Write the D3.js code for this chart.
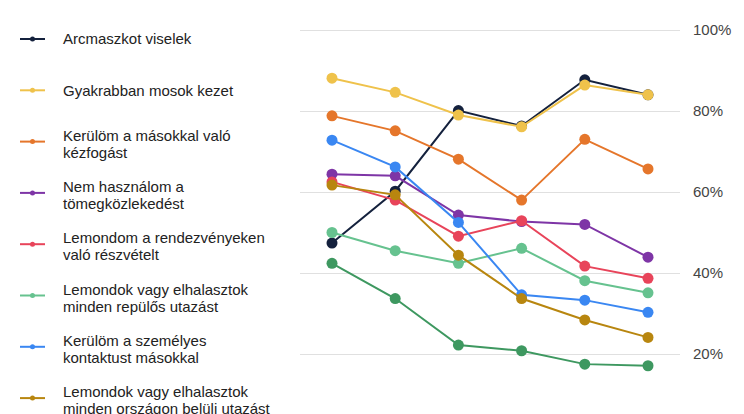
<!DOCTYPE html>
<html>
<head>
<meta charset="utf-8">
<script src="https://cdn.jsdelivr.net/npm/d3@7"></script>
<style>
  body { margin: 0; background: #fff; }
  svg { display: block; font-family: Arial, "Liberation Sans", sans-serif; }
</style>
</head>
<body>
<svg id="chart" width="744" height="414"></svg>
<script>
var svgWidth = 744;
var svgHeight = 414;

// survey rounds (x labels fall below the visible area)
var periods = [1, 2, 3, 4, 5, 6];

var seriesNames = [
  ['Arcmaszkot viselek'],
  ['Gyakrabban mosok kezet'],
  ['Kerülöm a másokkal való', 'kézfogást'],
  ['Nem használom a', 'tömegközlekedést'],
  ['Lemondom a rendezvényeken', 'való részvételt'],
  ['Lemondok vagy elhalasztok', 'minden repülős utazást'],
  ['Kerülöm a személyes', 'kontaktust másokkal'],
  ['Lemondok vagy elhalasztok', 'minden országon belüli utazást'],
  ['Egyéb']
];

var maszk     = [47.4, 60.2, 80.1, 76.3, 87.7, 84.0];
var kezmosas  = [88.1, 84.6, 79.0, 76.1, 86.4, 84.0];
var kezfogas  = [78.8, 75.1, 68.1, 58.0, 73.0, 65.7];
var tomeg     = [64.4, 64.0, 54.3, 52.7, 52.0, 43.9];
var rendezv   = [62.5, 58.0, 49.1, 52.9, 41.7, 38.7];
var repulo    = [50.0, 45.5, 42.4, 46.1, 38.1, 35.1];
var kontaktus = [72.8, 66.2, 52.5, 34.6, 33.3, 30.3];
var belfold   = [61.7, 59.3, 44.4, 33.7, 28.4, 24.1];
var egyeb     = [42.4, 33.7, 22.2, 20.8, 17.5, 17.1];

var allValues = [maszk, kezmosas, kezfogas, tomeg, rendezv, repulo, kontaktus, belfold, egyeb];

var colors = ['#14213d', '#efc24b', '#e5762b', '#7e35a6', '#e8445a',
              '#66c28f', '#3a87f2', '#b8860f', '#3e9860'];

// 0% sits below the visible area
var yTicks = [20, 40, 60, 80, 100];

var svg = d3.select('#chart');

var xScale = d3.scalePoint()
    .domain(periods)
    .range([332, 648]);

var yScale = d3.scaleLinear()
    .domain([0, 100])
    .range([435, 30]);

// gridlines + right-hand labels
var yAxis = svg.append('g')
    .attr('class', 'y_axis')
    .attr('transform', 'translate(300,0)')
    .call(d3.axisRight(yScale)
        .tickValues(yTicks)
        .tickSize(380)
        .tickPadding(13)
        .tickFormat(function(d) { return d + '%'; }));

yAxis.select('.domain').remove();
yAxis.selectAll('line').attr('stroke', '#e0e0e0').attr('stroke-width', 1);
yAxis.selectAll('text')
    .attr('fill', '#444')
    .style('font-size', '15px')
    .attr('font-family', 'Arial, "Liberation Sans", sans-serif');

var line = d3.line()
    .x(function(d, i) { return xScale(periods[i]); })
    .y(function(d) { return yScale(d); });

var series = svg.selectAll('.series')
    .data(allValues)
    .enter()
    .append('g')
      .attr('class', 'series');

series.append('path')
    .attr('d', function(d) { return line(d); })
    .attr('fill', 'none')
    .attr('stroke', function(d, i) { return colors[i]; })
    .attr('stroke-width', 2);

series.each(function(vals, i) {
    d3.select(this).selectAll('circle')
        .data(vals)
        .enter()
        .append('circle')
          .attr('cx', function(d, j) { return xScale(periods[j]); })
          .attr('cy', function(d) { return yScale(d); })
          .attr('r', 5.5)
          .attr('fill', colors[i]);
});

// legend
var legend = svg.append('g').attr('class', 'legend');

var items = legend.selectAll('.item')
    .data(seriesNames)
    .enter()
    .append('g')
      .attr('class', 'item')
      .attr('transform', function(d, i) { return 'translate(0,' + (39 + i * 51.3) + ')'; });

items.append('line')
    .attr('x1', 20).attr('x2', 45)
    .attr('y1', 0).attr('y2', 0)
    .attr('stroke', function(d, i) { return colors[i]; })
    .attr('stroke-width', 2);

items.append('circle')
    .attr('cx', 32.5).attr('cy', 0).attr('r', 2.5)
    .attr('fill', function(d, i) { return colors[i]; });

items.each(function(lines) {
    var g = d3.select(this);
    var start = lines.length > 1 ? -6 : 0;
    lines.forEach(function(t, k) {
        g.append('text')
            .attr('x', 63)
            .attr('y', start + k * 17)
            .attr('dy', '0.35em')
            .attr('fill', '#222')
            .style('font-size', '15px')
            .text(t);
    });
});
</script>
</body>
</html>
